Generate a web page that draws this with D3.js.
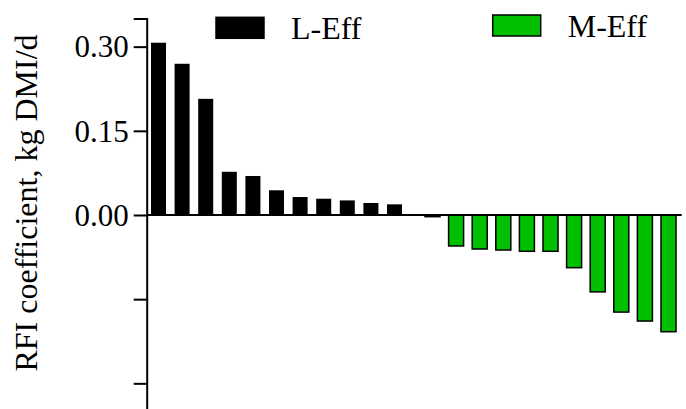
<!DOCTYPE html>
<html lang="en">
<head>
    <meta charset="UTF-8">
    <title>RFI coefficient</title>
    <script src="https://cdn.jsdelivr.net/npm/d3@7"></script>
    <style>
        body { margin: 0; background: #fff; }
    </style>
</head>
<body>
    <script>
        // values
        let lEff = [0.307, 0.2695, 0.207, 0.077, 0.0695, 0.044, 0.032, 0.029, 0.026, 0.0214, 0.019];
        let mEff = [-0.003, -0.0552, -0.0606, -0.0624, -0.0647, -0.0647, -0.0939, -0.137, -0.173, -0.189, -0.208];
        let tickValues = [0.30, 0.15, 0.00, -0.15, -0.30];
        let tickLabels = ['0.30', '0.15', '0.00', '', ''];
        let groups = ['L-Eff', 'M-Eff'];
        let colors = ['#000000', '#00c000'];

        let w = 686;
        let h = 409;
        let serif = "'Liberation Serif'";
        // serif glyphs drop out above 30px here, so draw at 30px and scale up
        let base = 30;

        let svg = d3.select('body')
                    .append('svg')
                    .attr('width', w)
                    .attr('height', h);

        let y = d3.scaleLinear()
                  .domain([-0.36, 0.35])
                  .range([417, 18.6]);

        let step = 23.6;
        let xL = d3.scaleBand()
                   .domain(d3.range(lEff.length))
                   .range([146.7, 146.7 + lEff.length * step])
                   .paddingInner(0.364)
                   .paddingOuter(0.182);
        let xM = d3.scaleBand()
                   .domain(d3.range(mEff.length))
                   .range([420.7, 420.7 + mEff.length * step])
                   .paddingInner(0.364)
                   .paddingOuter(0.182);

        // black bars
        svg.selectAll('rect.l')
           .data(lEff)
           .enter()
           .append('rect')
           .attr('class', 'l')
           .attr('x', (d, i) => xL(i))
           .attr('width', xL.bandwidth())
           .attr('y', d => y(Math.max(0, d)))
           .attr('height', d => Math.abs(y(d) - y(0)))
           .attr('fill', colors[0]);

        // green bars
        svg.selectAll('rect.m')
           .data(mEff)
           .enter()
           .append('rect')
           .attr('class', 'm')
           .attr('x', (d, i) => xM(i))
           .attr('width', xM.bandwidth())
           .attr('y', d => y(Math.max(0, d)))
           .attr('height', d => Math.abs(y(d) - y(0)))
           .attr('fill', colors[1])
           .attr('stroke', '#000')
           .attr('stroke-width', 1.5);

        // zero line
        svg.append('line')
           .attr('x1', 146.7)
           .attr('x2', 681.7)
           .attr('y1', y(0))
           .attr('y2', y(0))
           .attr('stroke', '#000')
           .attr('stroke-width', 2);

        // y axis
        let axis = d3.axisLeft(y)
                     .tickValues(tickValues)
                     .tickFormat((d, i) => tickLabels[i])
                     .tickSizeOuter(0)
                     .tickSize(13)
                     .tickPadding(5);

        let g = svg.append('g')
                   .attr('transform', 'translate(146.7,0)')
                   .call(axis);
        g.select('.domain').attr('stroke-width', 2);
        g.selectAll('.tick line').attr('stroke-width', 2);
        g.selectAll('.tick text')
         .attr('x', 0)
         .attr('transform', 'translate(-18,0) scale(' + (31 / base) + ')')
         .style('font-family', serif)
         .style('font-size', base + 'px')
         .attr('fill', '#000')
         .attr('dy', '0.33em');

        // axis title
        svg.append('text')
           .attr('transform', 'translate(37,203) rotate(-90) scale(' + (32 / base) + ')')
           .attr('text-anchor', 'middle')
           .style('font-family', serif)
           .style('font-size', base + 'px')
           .text('RFI coefficient, kg DMI/d');

        // legend
        let legendX = [216, 492.7];
        let legendY = [17.3, 15];
        let legend = svg.selectAll('g.legend')
                        .data(groups)
                        .enter()
                        .append('g')
                        .attr('class', 'legend');
        legend.append('rect')
              .attr('x', (d, i) => legendX[i])
              .attr('y', (d, i) => legendY[i])
              .attr('width', 48)
              .attr('height', 21)
              .attr('fill', (d, i) => colors[i])
              .attr('stroke', '#000')
              .attr('stroke-width', 1.5);
        legend.append('text')
              .attr('transform', (d, i) => 'translate(' + (legendX[i] + 75) + ',' + (legendY[i] + 22) + ') scale(' + (32 / base) + ')')
              .style('font-family', serif)
              .style('font-size', base + 'px')
              .text(d => d);
    </script>
</body>
</html>
